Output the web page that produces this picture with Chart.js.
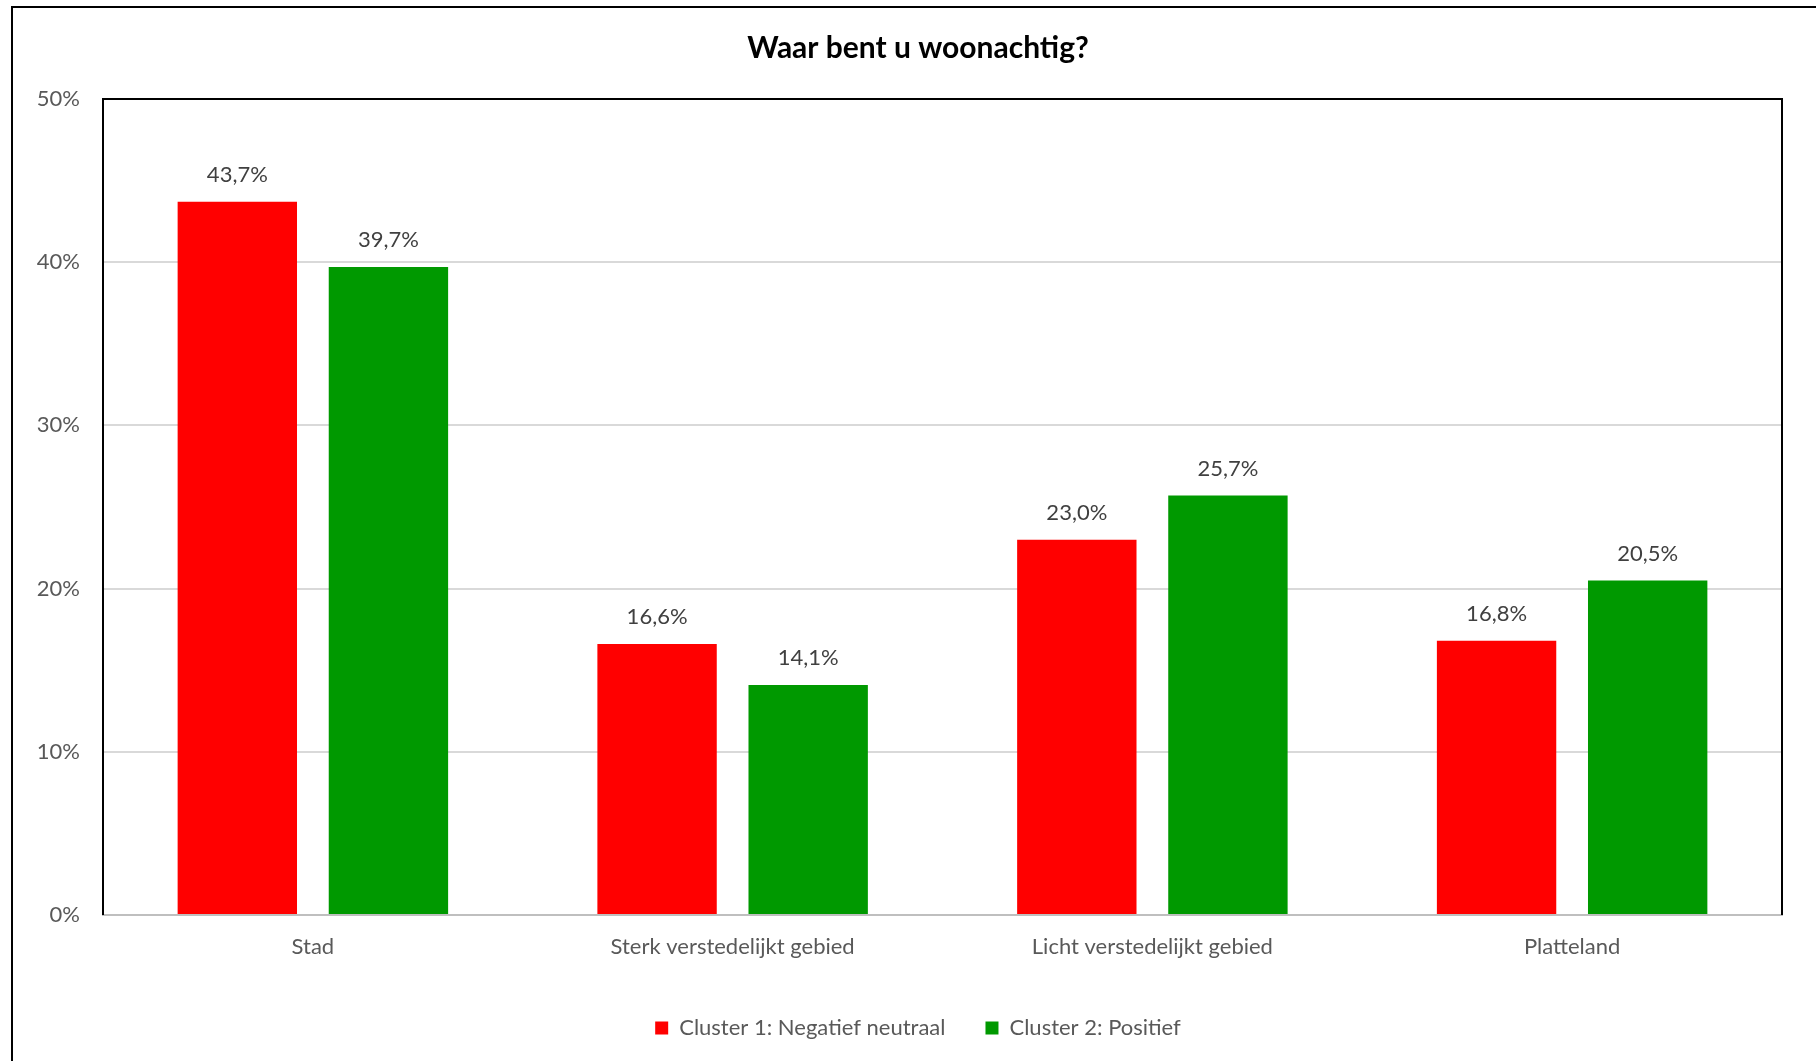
<!DOCTYPE html>
<html>
<head>
<meta charset="utf-8">
<script src="https://cdn.jsdelivr.net/npm/chart.js@4"></script>
<style>
  body { margin: 0; background: #fff; }
  #wrap { position: absolute; left: 0; top: 0; width: 1816px; height: 1061px; }
</style>
</head>
<body>
<div id="wrap"><canvas id="chart" width="1816" height="1061"></canvas></div>
<script>
// chart data
const categories = ['Stad', 'Sterk verstedelijkt gebied', 'Licht verstedelijkt gebied', 'Platteland'];
const cluster1 = [43.7, 16.6, 23.0, 16.8];
const cluster2 = [39.7, 14.1, 25.7, 20.5];
const seriesNames = ['Cluster 1: Negatief neutraal', 'Cluster 2: Positief'];
const yTicks = [0, 10, 20, 30, 40, 50];

const FONT = 'Lato, Carlito, Calibri, sans-serif';

// outer frame + plot border, Excel style
const framePlugin = {
    id: 'frame',
    beforeDraw(chart) {
        const ctx = chart.ctx;
        ctx.save();
        ctx.strokeStyle = '#000';
        ctx.lineWidth = 2;
        ctx.strokeRect(12, 7, chart.width + 20, chart.height + 20);
        ctx.restore();
    },
    afterDraw(chart) {
        const { ctx, chartArea: a } = chart;
        ctx.save();
        ctx.strokeStyle = '#000';
        ctx.lineWidth = 2;
        ctx.beginPath();
        ctx.moveTo(a.left, a.bottom);
        ctx.lineTo(a.left, a.top);
        ctx.lineTo(a.right, a.top);
        ctx.lineTo(a.right, a.bottom);
        ctx.stroke();
        ctx.restore();
    }
};

// value labels above the bars
const valueLabels = {
    id: 'valueLabels',
    afterDatasetsDraw(chart) {
        const ctx = chart.ctx;
        ctx.save();
        ctx.font = '22px ' + FONT;
        ctx.fillStyle = '#404040';
        ctx.textAlign = 'center';
        ctx.textBaseline = 'middle';
        chart.data.datasets.forEach((ds, i) => {
            chart.getDatasetMeta(i).data.forEach((bar, j) => {
                const txt = ds.data[j].toFixed(1).replace('.', ',') + '%';
                ctx.fillText(txt, bar.x, bar.y - 27);
            });
        });
        ctx.restore();
    }
};

new Chart(document.getElementById('chart'), {
    type: 'bar',
    data: {
        labels: categories,
        datasets: [
            { label: seriesNames[0], data: cluster1, backgroundColor: '#ff0000' },
            { label: seriesNames[1], data: cluster2, backgroundColor: '#009900' }
        ]
    },
    options: {
        responsive: false,
        animation: false,
        layout: { padding: { left: 20, right: 0, top: 0, bottom: 12 } },
        datasets: { bar: { categoryPercentage: 0.72, barPercentage: 0.79 } },
        plugins: {
            title: {
                display: true,
                text: 'Waar bent u woonachtig?',
                color: '#000',
                font: { family: FONT, size: 30, weight: 'bold' },
                padding: { top: 30, bottom: 33 }
            },
            legend: {
                position: 'bottom',
                labels: {
                    font: { family: FONT, size: 22 },
                    color: '#595959',
                    boxWidth: 13,
                    boxHeight: 13,
                    padding: 40
                }
            },
            tooltip: { enabled: false }
        },
        scales: {
            x: {
                grid: { display: false, drawTicks: false },
                border: { display: true, color: '#bfbfbf', width: 2 },
                ticks: { font: { family: FONT, size: 22 }, color: '#595959', padding: 19, maxRotation: 0 },
                afterFit: s => { s.height = 62; }
            },
            y: {
                min: 0,
                max: 50,
                afterBuildTicks: s => { s.ticks = yTicks.map(v => ({ value: v })); },
                grid: { color: '#d9d9d9', lineWidth: 2, drawTicks: false },
                border: { display: false },
                ticks: { font: { family: FONT, size: 22 }, color: '#595959', padding: 23, callback: v => v + '%' },
                afterFit: s => { s.width = 83; }
            },
            // empty right-hand strip so the plot ends where the reference does
            yRight: {
                position: 'right',
                min: 0,
                max: 50,
                grid: { display: false, drawTicks: false },
                border: { display: false },
                ticks: { display: false },
                afterFit: s => { s.width = 34; }
            }
        }
    },
    plugins: [framePlugin, valueLabels]
});
</script>
</body>
</html>
